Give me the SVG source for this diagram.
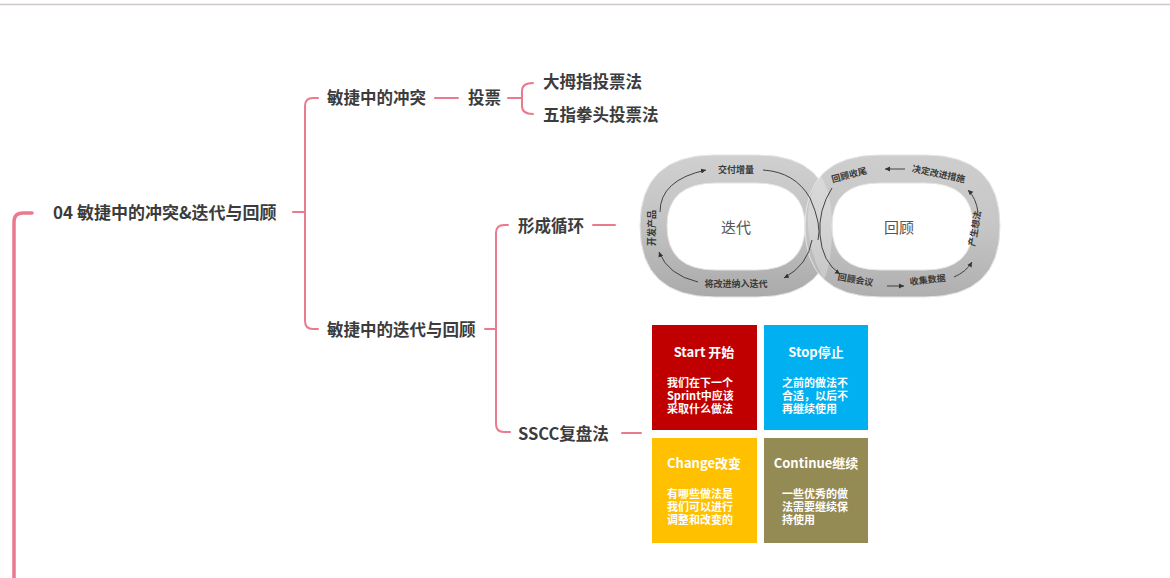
<svg xmlns="http://www.w3.org/2000/svg" width="1170" height="578" viewBox="0 0 1170 578">
<defs>
<style>
.t{font-family:"Noto Sans CJK SC","Noto Sans",sans-serif;font-weight:bold;fill:#3c3c3c;font-size:16.5px}
.ln{fill:none;stroke:#ea7a8e;stroke-width:2;stroke-linecap:round}
.rl{font-family:"Noto Sans CJK SC",sans-serif;font-weight:bold;fill:#3a3a3a;font-size:9px}
.ctr{font-family:"Noto Sans CJK SC",sans-serif;fill:#555;font-size:15px}
.ar{fill:none;stroke:#333;stroke-width:0.9}
.bt{font-family:"Noto Sans CJK SC","Noto Sans",sans-serif;font-weight:bold;fill:#fff;font-size:13px}
.bb{font-family:"Noto Sans CJK SC","Noto Sans",sans-serif;font-weight:bold;fill:#fff;font-size:11px}
</style>
<marker id="ah" markerWidth="6" markerHeight="6" refX="5" refY="3" orient="auto" markerUnits="userSpaceOnUse"><path d="M0,0.5 L5,3 L0,5.5 Z" fill="#333"/></marker>
<linearGradient id="gl" x1="0" y1="0" x2="0" y2="1"><stop offset="0" stop-color="#d0d0d0"/><stop offset="0.5" stop-color="#c2c2c2"/><stop offset="1" stop-color="#aaaaaa"/></linearGradient>
<linearGradient id="gr" x1="0" y1="0" x2="0" y2="1"><stop offset="0" stop-color="#cecece"/><stop offset="0.5" stop-color="#c6c6c6"/><stop offset="1" stop-color="#afafaf"/></linearGradient>
</defs>
<rect width="1170" height="578" fill="#fff"/>
<line x1="0" y1="4.5" x2="1170" y2="4.5" stroke="#cfc6c8" stroke-width="1.5"/>

<g id="connectors">
<path class="ln" style="stroke-width:3.5" d="M14 578 V222 Q14 213 23 213 H32"/>
<path class="ln" d="M293 212 H305 M318 98 H313 Q305 98 305 106 V321 Q305 329 313 329 H318"/>
<path class="ln" d="M435 98 H458 M508 98 H522 M533 83 Q522 83 522 91 V106 Q522 114 533 114"/>
<path class="ln" d="M485 329 H496 M508 225 H504 Q496 225 496 233 V424 Q496 432 504 432 H510"/>
<path class="ln" d="M593 225 H615 M622 433 H641"/>
</g>

<g id="root"><text class="t" x="53" y="219" style="font-size:17px">04 敏捷中的冲突&amp;迭代与回顾</text></g>
<g id="n-conflict"><text class="t" x="327" y="104">敏捷中的冲突</text></g>
<g id="n-vote"><text class="t" x="468" y="104">投票</text></g>
<g id="n-thumb"><text class="t" x="543" y="88">大拇指投票法</text></g>
<g id="n-five"><text class="t" x="543" y="121">五指拳头投票法</text></g>
<g id="n-iter"><text class="t" x="327" y="336">敏捷中的迭代与回顾</text></g>
<g id="n-loop"><text class="t" x="518" y="232">形成循环</text></g>
<g id="n-sscc"><text class="t" x="518" y="440">SSCC复盘法</text></g>

<g id="infinity">
<path fill="url(#gl)" fill-rule="evenodd" stroke="#e4e4e4" stroke-width="1" d="M715 155 H757 Q832 155 832 226 Q832 297 757 297 H715 Q640 297 640 226 Q640 155 715 155 Z M716 183 H756 Q805 183 805 226 Q805 270 756 270 H716 Q667 270 667 226 Q667 183 716 183 Z"/>
<path fill="url(#gr)" fill-rule="evenodd" stroke="#e4e4e4" stroke-width="1" d="M880 155 H925 Q1000 155 1000 226 Q1000 297 925 297 H880 Q805 297 805 226 Q805 155 880 155 Z M880 183 H925 Q973 183 973 226 Q973 270 925 270 H880 Q832 270 832 226 Q832 183 880 183 Z"/>
<path fill="#ffffff" fill-opacity="0.25" d="M820 175 Q806 200 808 226 Q810 255 824 280 Q832 262 832 226 Q832 192 820 175 Z"/>
<text class="ctr" x="736" y="233" text-anchor="middle">迭代</text>
<text class="ctr" x="899" y="233" text-anchor="middle">回顾</text>
<text class="rl" x="736" y="173" text-anchor="middle">交付增量</text>
<text class="rl" x="736" y="287" text-anchor="middle">将改进纳入迭代</text>
<text class="rl" transform="translate(655 228) rotate(-90)" text-anchor="middle">开发产品</text>
<text class="rl" transform="translate(850 178) rotate(-15)" text-anchor="middle">回顾收尾</text>
<text class="rl" transform="translate(938 177) rotate(12)" text-anchor="middle">决定改进措施</text>
<text class="rl" transform="translate(978 229) rotate(-80)" text-anchor="middle">产生想法</text>
<text class="rl" transform="translate(855 283) rotate(10)" text-anchor="middle">回顾会议</text>
<text class="rl" transform="translate(928 283) rotate(-6)" text-anchor="middle">收集数据</text>
<path class="ar" marker-end="url(#ah)" d="M660 212 Q660 180 706 170"/>
<path class="ar" marker-end="url(#ah)" d="M698 282 Q668 275 659 252"/>
<path class="ar" d="M763 170 Q795 172 810 198 Q822 225 818 240"/>
<path class="ar" marker-end="url(#ah)" d="M812 240 Q808 265 784 278"/>
<path class="ar" marker-end="url(#ah)" d="M832 188 Q818 210 820 235 Q822 262 840 274"/>
<path class="ar" marker-end="url(#ah)" d="M905 169 H885"/>
<path class="ar" marker-end="url(#ah)" d="M978 212 Q976 198 968 190"/>
<path class="ar" marker-end="url(#ah)" d="M954 277 Q966 272 972 262"/>
<path class="ar" marker-end="url(#ah)" d="M887 286 H904"/>
</g>

<g id="box-start">
<rect x="652" y="325" width="105" height="105" fill="#c00000"/>
<text class="bt" x="704" y="357" text-anchor="middle">Start 开始</text>
<text class="bb" x="667" y="387">我们在下一个</text>
<text class="bb" x="667" y="400">Sprint中应该</text>
<text class="bb" x="667" y="413">采取什么做法</text>
</g>
<g id="box-stop">
<rect x="764" y="325" width="104" height="105" fill="#00b0f0"/>
<text class="bt" x="816" y="357" text-anchor="middle">Stop停止</text>
<text class="bb" x="782" y="387">之前的做法不</text>
<text class="bb" x="782" y="400">合适，以后不</text>
<text class="bb" x="782" y="413">再继续使用</text>
</g>
<g id="box-change">
<rect x="652" y="438" width="105" height="105" fill="#ffc000"/>
<text class="bt" x="704" y="468" text-anchor="middle">Change改变</text>
<text class="bb" x="667" y="498">有哪些做法是</text>
<text class="bb" x="667" y="511">我们可以进行</text>
<text class="bb" x="667" y="524">调整和改变的</text>
</g>
<g id="box-continue">
<rect x="764" y="438" width="104" height="105" fill="#948a54"/>
<text class="bt" x="816" y="468" text-anchor="middle">Continue继续</text>
<text class="bb" x="782" y="498">一些优秀的做</text>
<text class="bb" x="782" y="511">法需要继续保</text>
<text class="bb" x="782" y="524">持使用</text>
</g>
</svg>
